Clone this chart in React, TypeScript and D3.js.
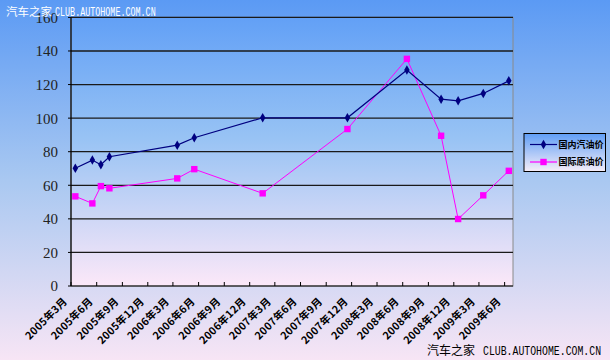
import React from "react";
import * as d3 from "d3";

const tickLabels = [
  "2005年3月", "2005年6月", "2005年9月", "2005年12月",
  "2006年3月", "2006年6月", "2006年9月", "2006年12月",
  "2007年3月", "2007年6月", "2007年9月", "2007年12月",
  "2008年3月", "2008年6月", "2008年9月", "2008年12月",
  "2009年3月", "2009年6月",
];
const tickMonths = [
  "2005-03", "2005-06", "2005-09", "2005-12",
  "2006-03", "2006-06", "2006-09", "2006-12",
  "2007-03", "2007-06", "2007-09", "2007-12",
  "2008-03", "2008-06", "2008-09", "2008-12",
  "2009-03", "2009-06",
];
const pointMonths = [
  "2005-03", "2005-05", "2005-06", "2005-07", "2006-03", "2006-05", "2007-01",
  "2007-11", "2008-06", "2008-10", "2008-12", "2009-03", "2009-06",
];
const domesticGasoline = [70.1, 75, 72.2, 77, 83.9, 88.3, 100.2, 100.2, 128.6, 111.3, 110.3, 114.7, 122.2];
const crudeOil = [53.4, 49.2, 59.5, 58.2, 64.1, 69.6, 55.2, 93.5, 135.3, 89.5, 39.9, 54, 68.6];
const seriesNames = ["国内汽油价", "国际原油价"];
const yTicks = [0, 20, 40, 60, 80, 100, 120, 140, 160];
const axisStart = "2005-03";
const axisEnd = "2009-07";
const watermark = "汽车之家";
const watermarkUrl = "CLUB.AUTOHOME.COM.CN";

const parseMonth = d3.timeParse("%Y-%m");

const W = 610, H = 360;
const plot = { left: 71, right: 513, top: 17.4, bottom: 286 };

export default function App() {
  const x = d3.scaleTime()
    .domain([parseMonth(axisStart)!, parseMonth(axisEnd)!])
    .range([plot.left, plot.right]);
  const y = d3.scaleLinear().domain([0, 160]).range([plot.bottom, plot.top]);
  const xMid = (m: string) => {
    const d = parseMonth(m)!;
    return (x(d) + x(d3.timeMonth.offset(d, 1))) / 2;
  };
  const line = d3.line<[number, number]>().x(d => d[0]).y(d => d[1]);
  const blue = pointMonths.map((m, i) => [xMid(m), y(domesticGasoline[i])] as [number, number]);
  const pink = pointMonths.map((m, i) => [xMid(m), y(crudeOil[i])] as [number, number]);
  const diamond = d3.symbol().type(d3.symbolDiamond).size(26)()!;
  const blueColor = "#000080";
  const pinkColor = "#ff00ff";

  const legendX = 524, legendY = 133.5, legendW = 81.5, legendH = 38;

  return (
    <div style={{ position: "absolute", left: 0, top: 0 }}>
      <svg width={W} height={H} style={{ display: "block" }}>
        <defs>
          <linearGradient id="bg" x1="0" y1="0" x2="0" y2="1">
            <stop offset="0" stopColor="#5b9af4" />
            <stop offset="0.5" stopColor="#a9c8f1" />
            <stop offset="1" stopColor="#f7e5f5" />
          </linearGradient>
          <linearGradient id="pa" x1="0" y1="0" x2="0" y2="1">
            <stop offset="0" stopColor="#62a0f6" />
            <stop offset="0.45" stopColor="#98c3f4" />
            <stop offset="1" stopColor="#fce8f8" />
          </linearGradient>
          <linearGradient id="lg" x1="0" y1="0" x2="0" y2="1">
            <stop offset="0" stopColor="#5f9ef6" />
            <stop offset="1" stopColor="#f6eef8" />
          </linearGradient>
        </defs>
        <rect x={0} y={0} width={W} height={H} fill="url(#bg)" />
        <rect x={plot.left} y={plot.top} width={plot.right - plot.left} height={plot.bottom - plot.top}
          fill="url(#pa)" stroke="#8a8a8a" strokeWidth={1} />
        {yTicks.filter(t => t > 0).map(t => (
          <line key={t} x1={plot.left} x2={plot.right} y1={y(t)} y2={y(t)} stroke="#1a1a1a" strokeWidth={1.3} />
        ))}
        <line x1={plot.left} x2={plot.left} y1={plot.top} y2={plot.bottom} stroke="#000" strokeWidth={1.2} />
        <line x1={plot.left} x2={plot.right} y1={plot.bottom} y2={plot.bottom} stroke="#000" strokeWidth={1.2} />
        {yTicks.map(t => (
          <line key={"yt" + t} x1={plot.left - 3} x2={plot.left} y1={y(t)} y2={y(t)} stroke="#000" />
        ))}
        {tickMonths.map(m => {
          const xx = x(parseMonth(m)!);
          return <line key={"xt" + m} x1={xx} x2={xx} y1={plot.bottom} y2={plot.bottom - 4} stroke="#000" />;
        })}
        {yTicks.map(t => (
          <text key={"yl" + t} x={58} y={y(t)} dy="0.36em" textAnchor="end"
            fontFamily="Liberation Serif" fontSize={15} fill="#222">{t}</text>
        ))}
        {tickMonths.map((m, i) => {
          const xx = x(parseMonth(m)!);
          return (
            <text key={"xl" + m} transform={`translate(${xx - 3},${plot.bottom + 16}) rotate(-45)`}
              textAnchor="end" fontFamily="Noto Sans CJK SC" fontWeight="bold" fontSize={10.5}
              letterSpacing={0.3} fill="#000">
              {tickLabels[i]}
            </text>
          );
        })}
        <path d={line(pink)!} fill="none" stroke={pinkColor} strokeWidth={1} />
        <path d={line(blue)!} fill="none" stroke={blueColor} strokeWidth={1.2} />
        {pink.map((p, i) => (
          <rect key={"pm" + i} x={p[0] - 3.2} y={p[1] - 3.2} width={6.4} height={6.4} fill={pinkColor} />
        ))}
        {blue.map((p, i) => (
          <path key={"bm" + i} d={diamond} transform={`translate(${p[0]},${p[1]})`} fill={blueColor} />
        ))}
        <rect x={legendX} y={legendY} width={legendW} height={legendH} fill="url(#lg)" stroke="#000" strokeWidth={1} />
        {seriesNames.map((name, i) => {
          const ly = legendY + 11 + i * 17.5;
          const color = i === 0 ? blueColor : pinkColor;
          return (
            <g key={name}>
              <line x1={legendX + 6} x2={legendX + 33} y1={ly} y2={ly} stroke={color} strokeWidth={1.2} />
              {i === 0
                ? <path d={diamond} transform={`translate(${legendX + 19.5},${ly})`} fill={color} />
                : <rect x={legendX + 16.3} y={ly - 3.2} width={6.4} height={6.4} fill={color} />}
              <text x={legendX + 34.5} y={ly} dy="0.36em" fontFamily="Noto Sans CJK SC" fontWeight="bold"
                fontSize={9.5} textLength={45} lengthAdjust="spacingAndGlyphs" fill="#000">{name}</text>
            </g>
          );
        })}
        <text x={6} y={16} fontFamily="Noto Sans CJK SC" fontSize={11.5} fill="#fff">{watermark}</text>
        <g transform="translate(55,16) scale(0.7,1)">
          <text x={0} y={0} fontFamily="Liberation Mono" fontSize={12} fill="#fff">{watermarkUrl}</text>
        </g>
        <text x={427} y={355} fontFamily="Noto Sans CJK SC" fontSize={12} fill="#000">{watermark}</text>
        <g transform="translate(483,355) scale(0.82,1)">
          <text x={0} y={0} fontFamily="Liberation Mono" fontSize={12} fill="#000">{watermarkUrl}</text>
        </g>
      </svg>
    </div>
  );
}
